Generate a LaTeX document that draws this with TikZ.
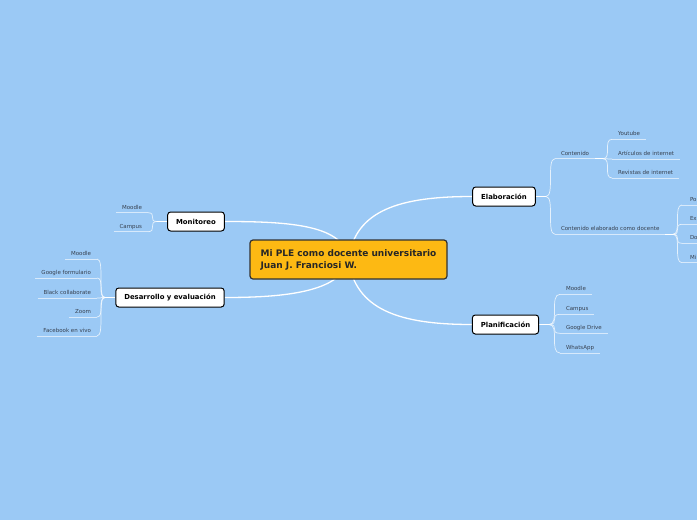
\documentclass[tikz,border=0pt]{standalone}
\usepackage{fontspec}
\setmainfont{DejaVu Sans}
\usetikzlibrary{calc,backgrounds}
\definecolor{bgblue}{RGB}{155,201,245}
\definecolor{centralfill}{RGB}{253,185,19}
\definecolor{leaftext}{RGB}{55,65,80}
\definecolor{cborder}{RGB}{50,50,50}
\begin{document}
\begin{tikzpicture}[x=1pt,y=-1pt,
  centralbox/.style={draw=cborder, line width=1.2pt, fill=centralfill, rounded corners=3pt,
    minimum width=197pt, minimum height=39pt, align=left, text=black!85,
    font=\fontsize{9}{12}\selectfont\bfseries},
  topicbox/.style={draw=black, line width=1pt, fill=white, rounded corners=3pt,
    minimum height=19pt, inner xsep=8.5pt, text=black,
    font=\fontsize{6.9}{8}\selectfont\bfseries},
  uline/.style={draw=white, draw opacity=0.6, line width=0.7pt},
  leaf/.style={font=\fontsize{5.5}{6.5}\selectfont, text=leaftext, text height=4pt,
    text depth=1.2pt, inner xsep=6pt, inner ysep=2.3pt, outer sep=0pt,
    append after command={(\tikzlastnode.south west) edge[uline] (\tikzlastnode.south east)}},
  leafR/.style={leaf, anchor=south west},
  leafL/.style={leaf, anchor=south east},
  leafcut/.style={leafR, text width=30pt, align=left, inner xsep=8pt},
  mainlink/.style={draw=white, line width=1.3pt},
  stub/.style={draw=white, line width=1.1pt},
  sublink/.style={draw=white, draw opacity=0.75, line width=0.7pt}
]
\useasboundingbox (0,0) rectangle (697,520);
\begin{scope}
\clip (0,0) rectangle (697,520);
% central and topics
\node[centralbox] (c) at (348.5,259.5) {Mi PLE como docente universitario\\Juan J. Franciosi W.};
\node[topicbox] (mon) at (196,221.5) {Monitoreo};
\node[topicbox] (des) at (170,297.5) {Desarrollo y evaluación};
\node[topicbox] (ela) at (504,196.5) {Elaboración};
\node[topicbox] (pla) at (505.5,324.5) {Planificación};
% Monitoreo leaves
\node[leafL] (mon1) at (148,212.7) {Moodle};
\node[leafL] (mon2) at (148,231.7) {Campus};
% Desarrollo leaves
\node[leafL] (des1) at (97,259) {Moodle};
\node[leafL] (des2) at (97,278) {Google formulario};
\node[leafL] (des3) at (97,298) {Black collaborate};
\node[leafL] (des4) at (97,317) {Zoom};
\node[leafL] (des5) at (97,336) {Facebook en vivo};
% Elaboracion leaves
\node[leafR] (cont) at (555,158.7) {Contenido};
\node[leafR] (ced) at (555,234.3) {Contenido elaborado como docente};
\node[leafR] (cont1) at (612,139.3) {Youtube};
\node[leafR] (cont2) at (612,159) {Artículos de internet};
\node[leafR] (cont3) at (612,178) {Revistas de internet};
\node[leafcut] (ced1) at (682,205) {Po};
\node[leafcut] (ced2) at (682,224.3) {Ex};
\node[leafcut] (ced3) at (682,243.3) {Do};
\node[leafcut] (ced4) at (682,262.7) {Mi};
% Planificacion leaves
\node[leafR] (pla1) at (560,294.3) {Moodle};
\node[leafR] (pla2) at (560,314.3) {Campus};
\node[leafR] (pla3) at (560,333.3) {Google Drive};
\node[leafR] (pla4) at (560,353) {WhatsApp};
% junctions
\coordinate (jmon) at (157,221.5);
\coordinate (jdes) at (105,297.5);
\coordinate (jela) at (546,196.5);
\coordinate (jcont) at (603,158.7);
\coordinate (jced) at (673,234.3);
\coordinate (jpla) at (549,324.5);
\end{scope}
\begin{pgfonlayer}{background}
\fill[bgblue] (0,0) rectangle (697,520);
% main links
\draw[mainlink] (c.center) .. controls (345,225) and (290,221.5) .. (mon.east);
\draw[mainlink] (c.center) .. controls (342,293) and (280,297.5) .. (des.east);
\draw[mainlink] (c.center) .. controls (355,210) and (400,196.5) .. (ela.west);
\draw[mainlink] (c.center) .. controls (355,310) and (400,324.5) .. (pla.west);
% stubs
\draw[stub] (mon.west) -- (jmon);
\draw[stub] (des.west) -- (jdes);
\draw[stub] (ela.east) -- (jela);
\draw[stub] (cont.south east) -- (jcont);
\draw[stub] (ced.south east) -- (jced);
\draw[stub] (pla.east) -- (jpla);
% sub links
\foreach \n in {mon1,mon2}{\draw[sublink] (jmon) .. controls +(-9,0) and +(9,0) .. (\n.south east);}
\foreach \n in {des1,des2,des3,des4,des5}{\draw[sublink] (jdes) .. controls +(-8,0) and +(8,0) .. (\n.south east);}
\foreach \n in {cont,ced}{\draw[sublink] (jela) .. controls +(9,0) and +(-9,0) .. (\n.south west);}
\foreach \n in {cont1,cont2,cont3}{\draw[sublink] (jcont) .. controls +(9,0) and +(-9,0) .. (\n.south west);}
\foreach \n in {ced1,ced2,ced3,ced4}{\draw[sublink] (jced) .. controls +(9,0) and +(-9,0) .. (\n.south west);}
\foreach \n in {pla1,pla2,pla3,pla4}{\draw[sublink] (jpla) .. controls +(11,0) and +(-11,0) .. (\n.south west);}
\end{pgfonlayer}
\end{tikzpicture}
\end{document}
